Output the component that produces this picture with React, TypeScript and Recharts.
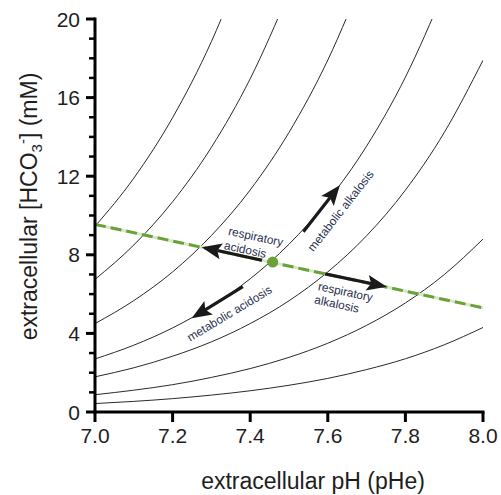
import React from 'react';
import { LineChart, Line, XAxis, YAxis, ReferenceLine, ReferenceDot, Label } from 'recharts';

// pH grid (x)
const phValues = [7.0, 7.1, 7.2, 7.3, 7.4, 7.5, 7.6, 7.7, 7.8, 7.9, 8.0];
// PCO2 isopleths: [HCO3-] (mM) read at each pH
const iso1 = [0.43, 0.54, 0.68, 0.86, 1.08, 1.36, 1.71, 2.16, 2.71, 3.42, 4.3];
const iso2 = [0.88, 1.11, 1.39, 1.76, 2.21, 2.78, 3.5, 4.41, 5.55, 6.99, 8.8];
const iso3 = [1.79, 2.25, 2.84, 3.57, 4.5, 5.66, 7.13, 8.97, 11.29, 14.22, 17.9];
const iso4 = [2.7, 3.4, 4.28, 5.39, 6.78, 8.54, 10.75, 13.53, 17.04, 21.45, null];
const iso5 = [4.5, 5.67, 7.13, 8.98, 11.3, 14.23, 17.91, 22.55, null, null, null];
const iso6 = [6.75, 8.5, 10.7, 13.47, 16.96, 21.34, null, null, null, null, null];
const iso7 = [9.45, 11.9, 14.98, 18.85, 23.74, null, null, null, null, null, null];
const isoKeys = ['c1', 'c2', 'c3', 'c4', 'c5', 'c6', 'c7'];
const isoSeries = [iso1, iso2, iso3, iso4, iso5, iso6, iso7];

// buffer line (green dashed)
const bufferPh = [7.0, 8.0];
const bufferHco3 = [9.55, 5.3];
// normal point
const normalPoint = { ph: 7.458, hco3: 7.63 };

// arrows: [fromPh, fromHco3, toPh, toHco3]
const arrowNames = ['respiratory acidosis', 'respiratory alkalosis', 'metabolic alkalosis', 'metabolic acidosis'];
const arrowFrom = [[7.43, 7.72], [7.593, 7.03], [7.537, 9.17], [7.381, 6.38]];
const arrowTo = [[7.275, 8.39], [7.752, 6.37], [7.631, 11.54], [7.249, 4.77]];

// annotation texts
const labelTexts = ['respiratory', 'acidosis', 'metabolic alkalosis', 'metabolic acidosis', 'respiratory', 'alkalosis'];
const labelPh = [7.4144, 7.3874, 7.633, 7.3466, 7.6456, 7.623];
const labelHco3 = [8.93, 8.27, 10.24, 5.02, 6.12, 5.5];
const labelAngle = [12, 12, -52, -31, 12, 12];

const xTicks = [7.0, 7.2, 7.4, 7.6, 7.8, 8.0];
const yTicks = [0, 1, 2, 3, 4, 5, 6, 7, 8, 9, 10, 11, 12, 13, 14, 15, 16, 17, 18, 19, 20];

const tableData = phValues.map((ph, i) => {
  const row: any = { ph };
  isoKeys.forEach((k, j) => { row[k] = isoSeries[j][i]; });
  return row;
});
const bufferData = bufferPh.map((ph, i) => ({ ph, v: bufferHco3[i] }));

const FONT = '"Liberation Sans", Arial, Helvetica, sans-serif';
const GREEN = '#6aa23a';
const TEXT = '#1e1e1e';
const NOTE = '#27304e';

const YTick = (props: any) => {
  const { x, y, payload } = props;
  const major = payload.value % 4 === 0;
  return (
    <g>
      <line x1={x - (major ? 9 : 6)} x2={x} y1={y} y2={y} stroke="#000" strokeWidth={major ? 3 : 2.5} />
      {major && (
        <text x={x - 15} y={y} dy="0.36em" textAnchor="end" fontSize={21} fill={TEXT} fontFamily={FONT}>
          {payload.value}
        </text>
      )}
    </g>
  );
};

const XTick = (props: any) => {
  const { x, y, payload } = props;
  return (
    <g>
      <line x1={x} x2={x} y1={y} y2={y + 10} stroke="#000" strokeWidth={3} />
      <text x={x} y={y + 31} textAnchor="middle" fontSize={21} fill={TEXT} fontFamily={FONT}>
        {Number(payload.value).toFixed(1)}
      </text>
    </g>
  );
};

const arrowShape = (props: any) => {
  const { x1, y1, x2, y2 } = props;
  const dx = x2 - x1;
  const dy = y2 - y1;
  const len = Math.hypot(dx, dy) || 1;
  const ux = dx / len;
  const uy = dy / len;
  const px = -uy;
  const py = ux;
  const L = 20;
  const W = 8;
  const bx = x2 - ux * L;
  const by = y2 - uy * L;
  const nx = x2 - ux * L * 0.8;
  const ny = y2 - uy * L * 0.8;
  const pts = [
    [x2, y2],
    [bx + px * W, by + py * W],
    [nx, ny],
    [bx - px * W, by - py * W],
  ]
    .map((p) => p.join(','))
    .join(' ');
  return (
    <g>
      <line x1={x1} y1={y1} x2={nx} y2={ny} stroke="#1a1a1a" strokeWidth={3.2} />
      <polygon points={pts} fill="#1a1a1a" />
    </g>
  );
};

const makeTextShape = (text: string, angle: number) => (props: any) => {
  const { cx, cy } = props;
  return (
    <text
      x={cx}
      y={cy}
      dy="0.35em"
      textAnchor="middle"
      fontSize={11.8}
      fill={NOTE}
      fontFamily={FONT}
      transform={`rotate(${angle}, ${cx}, ${cy})`}
    >
      {text}
    </text>
  );
};

const XTitle = (props: any) => {
  const vb = props.viewBox || { x: 0, y: 0, width: 0, height: 0 };
  const x = vb.x + vb.width / 2 + 24;
  const y = vb.y + 77;
  return (
    <text x={x} y={y} textAnchor="middle" fontSize={23} fill={TEXT} fontFamily={FONT}>
      extracellular pH (pHe)
    </text>
  );
};

const YTitle = (props: any) => {
  const vb = props.viewBox || { x: 0, y: 0, width: 0, height: 0 };
  const x = vb.x + 37;
  const y = vb.y + vb.height / 2 - 9;
  return (
    <text
      x={x}
      y={y}
      textAnchor="middle"
      fontSize={23}
      fill={TEXT}
      fontFamily={FONT}
      transform={`rotate(-90, ${x}, ${y})`}
    >
      extracellular [HCO
      <tspan dy={5} fontSize={15}>3</tspan>
      <tspan dy={-14} fontSize={15}>-</tspan>
      <tspan dy={9}>] (mM)</tspan>
    </text>
  );
};

export default function App() {
  return (
    <div style={{ position: 'absolute', left: 0, top: 0, width: 501, height: 495, background: '#fff' }}>
      <LineChart
        width={501}
        height={495}
        data={tableData}
        margin={{ top: 19, right: 18, bottom: 0, left: 0 }}
      >
        <XAxis
          type="number"
          dataKey="ph"
          domain={[7, 8]}
          ticks={xTicks}
          allowDataOverflow
          interval={0}
          height={83}
          tickSize={0}
          tickMargin={0}
          tickLine={false}
          tick={<XTick />}
          axisLine={{ stroke: '#000', strokeWidth: 3, strokeLinecap: 'square' }}
        >
          <Label content={<XTitle />} />
        </XAxis>
        <YAxis
          type="number"
          domain={[0, 20]}
          ticks={yTicks}
          allowDataOverflow
          interval={0}
          width={95}
          tickSize={0}
          tickMargin={0}
          tickLine={false}
          tick={<YTick />}
          axisLine={{ stroke: '#000', strokeWidth: 3, strokeLinecap: 'square' }}
        >
          <Label content={<YTitle />} />
        </YAxis>
        {isoKeys.map((k) => (
          <Line
            key={k}
            type="monotone"
            dataKey={k}
            stroke="#2a2a2a"
            strokeWidth={1}
            dot={false}
            activeDot={false}
            connectNulls={false}
            isAnimationActive={false}
          />
        ))}
        <Line
          data={bufferData}
          type="linear"
          dataKey="v"
          stroke="#d6e7c6"
          strokeWidth={3}
          dot={false}
          activeDot={false}
          isAnimationActive={false}
        />
        <Line
          data={bufferData}
          type="linear"
          dataKey="v"
          stroke={GREEN}
          strokeWidth={3}
          strokeDasharray="11 5"
          dot={false}
          activeDot={false}
          isAnimationActive={false}
        />
        {arrowNames.map((n, i) => (
          <ReferenceLine
            key={n}
            segment={[
              { x: arrowFrom[i][0], y: arrowFrom[i][1] },
              { x: arrowTo[i][0], y: arrowTo[i][1] },
            ]}
            shape={arrowShape}
          />
        ))}
        <ReferenceDot x={normalPoint.ph} y={normalPoint.hco3} r={5.5} fill={GREEN} stroke="none" />
        {labelTexts.map((t, i) => (
          <ReferenceDot
            key={t + i}
            x={labelPh[i]}
            y={labelHco3[i]}
            r={0}
            shape={makeTextShape(t, labelAngle[i])}
          />
        ))}
      </LineChart>
    </div>
  );
}
